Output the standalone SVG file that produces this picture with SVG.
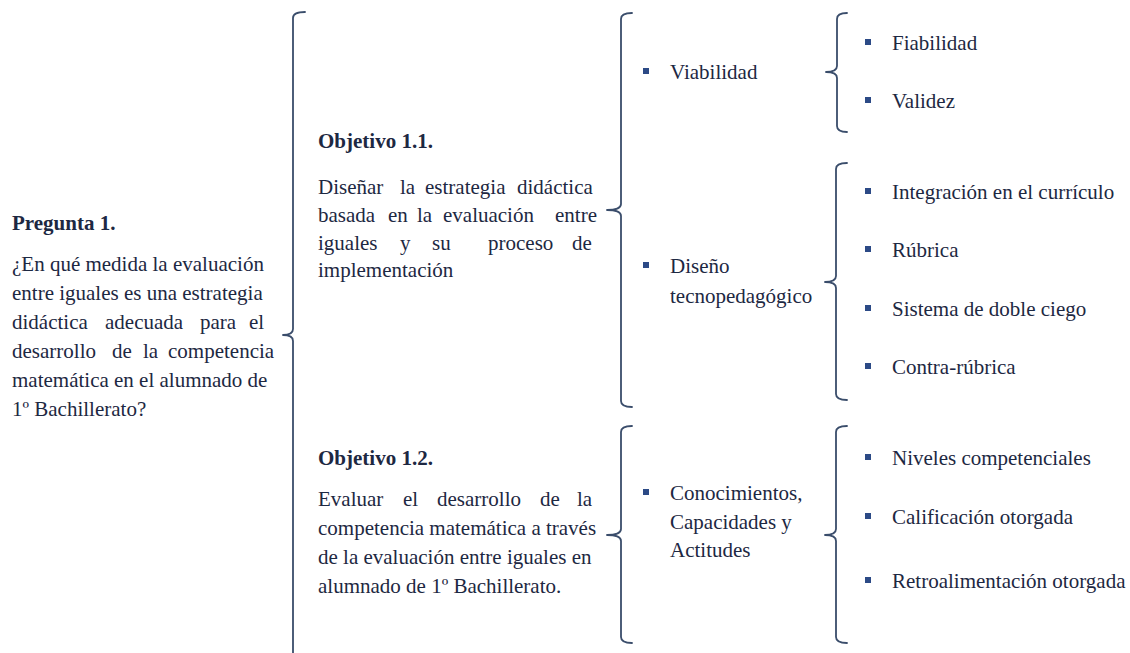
<svg xmlns="http://www.w3.org/2000/svg" width="1130" height="653" viewBox="0 0 1130 653">
<rect width="1130" height="653" fill="#ffffff"/>
<g id="connectors" fill="none" stroke="#3a4d6b" stroke-width="1.8" stroke-linecap="round" stroke-linejoin="round">
<path d="M305,12 Q293,12 293,18 L293,329 Q293,335 283,335 Q293,335 293,341 L293,660"/>
<path d="M632,13 Q621,13 621,19 L621,204 Q621,210 607,210 Q621,210 621,216 L621,401 Q621,407 632,407"/>
<path d="M632,426 Q621,426 621,432 L621,529 Q621,535 607,535 Q621,535 621,541 L621,637 Q621,643 632,643"/>
<path d="M847,13 Q837,13 837,19 L837,66 Q837,72 826,72 Q837,72 837,78 L837,126 Q837,132 847,132"/>
<path d="M847,163 Q836,163 836,169 L836,276 Q836,282 825,282 Q836,282 836,288 L836,394 Q836,400 847,400"/>
<path d="M847,426 Q836,426 836,432 L836,529 Q836,535 825,535 Q836,535 836,541 L836,637 Q836,643 847,643"/>
</g>
<g id="pregunta1" font-size="21" fill="#1d2842">
<text style="font-family:'Times New Roman'" font-weight="bold" x="12" y="230">Pregunta 1.</text>
<text style="font-family:'Times New Roman'" x="12" y="271">¿En qué medida la evaluación</text>
<text style="font-family:'Times New Roman'" x="12" y="300">entre iguales es una estrategia</text>
<text style="font-family:'Times New Roman'" x="12" y="329">didáctica</text>
<text style="font-family:'Times New Roman'" x="105" y="329">adecuada</text>
<text style="font-family:'Times New Roman'" x="200" y="329">para</text>
<text style="font-family:'Times New Roman'" x="249" y="329">el</text>
<text style="font-family:'Times New Roman'" x="12" y="358">desarrollo</text>
<text style="font-family:'Times New Roman'" x="112" y="358">de</text>
<text style="font-family:'Times New Roman'" x="143" y="358">la</text>
<text style="font-family:'Times New Roman'" x="168" y="358">competencia</text>
<text style="font-family:'Times New Roman'" x="12" y="387">matemática en el alumnado de</text>
<text style="font-family:'Times New Roman'" x="12" y="416">1º Bachillerato?</text>
</g>
<g id="objetivo11" font-size="21" fill="#1d2842">
<text style="font-family:'Times New Roman'" font-weight="bold" x="318" y="148">Objetivo 1.1.</text>
<text style="font-family:'Times New Roman'" x="318" y="194">Diseñar</text>
<text style="font-family:'Times New Roman'" x="400" y="194">la</text>
<text style="font-family:'Times New Roman'" x="425" y="194">estrategia</text>
<text style="font-family:'Times New Roman'" x="517" y="194">didáctica</text>
<text style="font-family:'Times New Roman'" x="318" y="222">basada</text>
<text style="font-family:'Times New Roman'" x="388" y="222">en</text>
<text style="font-family:'Times New Roman'" x="417" y="222">la</text>
<text style="font-family:'Times New Roman'" x="443" y="222">evaluación</text>
<text style="font-family:'Times New Roman'" x="555" y="222">entre</text>
<text style="font-family:'Times New Roman'" x="318" y="250">iguales</text>
<text style="font-family:'Times New Roman'" x="400" y="250">y</text>
<text style="font-family:'Times New Roman'" x="432" y="250">su</text>
<text style="font-family:'Times New Roman'" x="488" y="250">proceso</text>
<text style="font-family:'Times New Roman'" x="572" y="250">de</text>
<text style="font-family:'Times New Roman'" x="318" y="277">implementación</text>
</g>
<g id="objetivo12" font-size="21" fill="#1d2842">
<text style="font-family:'Times New Roman'" font-weight="bold" x="318" y="465">Objetivo 1.2.</text>
<text style="font-family:'Times New Roman'" x="318" y="506">Evaluar</text>
<text style="font-family:'Times New Roman'" x="403" y="506">el</text>
<text style="font-family:'Times New Roman'" x="437" y="506">desarrollo</text>
<text style="font-family:'Times New Roman'" x="540" y="506">de</text>
<text style="font-family:'Times New Roman'" x="577" y="506">la</text>
<text style="font-family:'Times New Roman'" x="318" y="535">competencia matemática a través</text>
<text style="font-family:'Times New Roman'" x="318" y="564">de la evaluación entre iguales en</text>
<text style="font-family:'Times New Roman'" x="318" y="593">alumnado de 1º Bachillerato.</text>
</g>
<g id="viabilidad" font-size="21" fill="#1d2842">
<rect fill="#2c4a86" x="643" y="68" width="6" height="6"/>
<text style="font-family:'Times New Roman'" x="670" y="79">Viabilidad</text>
</g>
<g id="diseno" font-size="21" fill="#1d2842">
<rect fill="#2c4a86" x="643" y="262" width="6" height="6"/>
<text style="font-family:'Times New Roman'" x="670" y="273">Diseño</text>
<text style="font-family:'Times New Roman'" x="670" y="303">tecnopedagógico</text>
</g>
<g id="conocimientos" font-size="21" fill="#1d2842">
<rect fill="#2c4a86" x="643" y="489" width="6" height="6"/>
<text style="font-family:'Times New Roman'" x="670" y="500">Conocimientos,</text>
<text style="font-family:'Times New Roman'" x="670" y="529">Capacidades y</text>
<text style="font-family:'Times New Roman'" x="670" y="557">Actitudes</text>
</g>
<g id="fiabilidad" font-size="21" fill="#1d2842"><rect fill="#2c4a86" x="865" y="39" width="6" height="6"/><text style="font-family:'Times New Roman'" x="892" y="50">Fiabilidad</text></g>
<g id="validez" font-size="21" fill="#1d2842"><rect fill="#2c4a86" x="865" y="97" width="6" height="6"/><text style="font-family:'Times New Roman'" x="892" y="108">Validez</text></g>
<g id="integracion" font-size="21" fill="#1d2842"><rect fill="#2c4a86" x="865" y="188" width="6" height="6"/><text style="font-family:'Times New Roman'" x="892" y="199">Integración en el currículo</text></g>
<g id="rubrica" font-size="21" fill="#1d2842"><rect fill="#2c4a86" x="865" y="246" width="6" height="6"/><text style="font-family:'Times New Roman'" x="892" y="257">Rúbrica</text></g>
<g id="doble-ciego" font-size="21" fill="#1d2842"><rect fill="#2c4a86" x="865" y="305" width="6" height="6"/><text style="font-family:'Times New Roman'" x="892" y="316">Sistema de doble ciego</text></g>
<g id="contra-rubrica" font-size="21" fill="#1d2842"><rect fill="#2c4a86" x="865" y="363" width="6" height="6"/><text style="font-family:'Times New Roman'" x="892" y="374">Contra-rúbrica</text></g>
<g id="niveles" font-size="21" fill="#1d2842"><rect fill="#2c4a86" x="865" y="454" width="6" height="6"/><text style="font-family:'Times New Roman'" x="892" y="465">Niveles competenciales</text></g>
<g id="calificacion" font-size="21" fill="#1d2842"><rect fill="#2c4a86" x="865" y="513" width="6" height="6"/><text style="font-family:'Times New Roman'" x="892" y="524">Calificación otorgada</text></g>
<g id="retroalimentacion" font-size="21" fill="#1d2842"><rect fill="#2c4a86" x="865" y="577" width="6" height="6"/><text style="font-family:'Times New Roman'" x="892" y="588">Retroalimentación otorgada</text></g>
</svg>
